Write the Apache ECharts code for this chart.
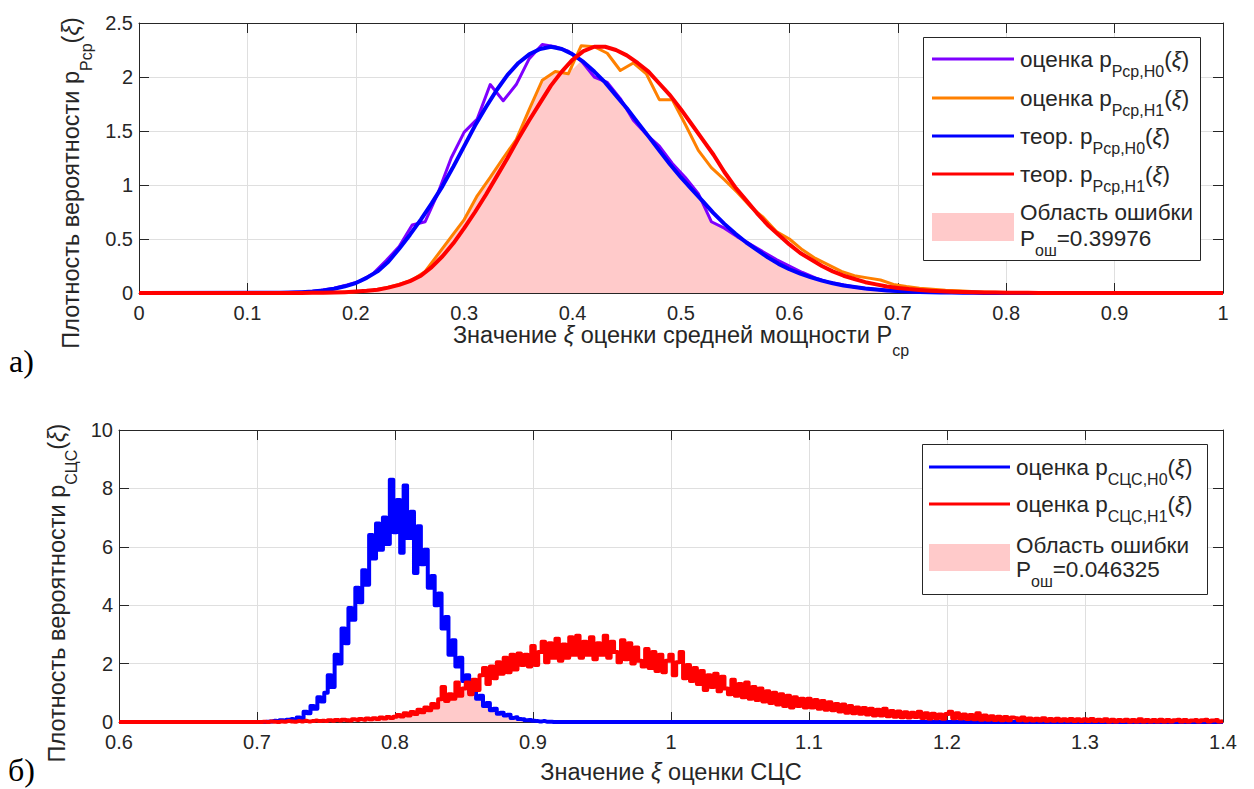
<!DOCTYPE html>
<html>
<head>
<meta charset="utf-8">
<script src="https://cdn.jsdelivr.net/npm/echarts@6/dist/echarts.min.js"></script>
<style>
  html, body { margin: 0; padding: 0; background: #ffffff; }
  #chart { width: 1254px; height: 789px; }
</style>
</head>
<body>
<div id="chart"></div>
<script>
// ---------- Panel а): mean power estimate P_ср ----------
// theoretical densities, sampled every 0.01
const pcpTheoStep = 0.01;
const pcpTheoH0Start = 0.13;
const pcpTheoH0 = [0.002,0.004,0.008,0.014,0.024,0.04,0.062,0.092,0.14,0.2,
  0.29,0.41,0.54,0.68,0.83,0.99,1.17,1.36,1.55,1.72,
  1.88,2.02,2.13,2.21,2.26,2.28,2.26,2.21,2.14,2.05,
  1.95,1.83,1.71,1.58,1.45,1.32,1.19,1.07,0.96,0.85,
  0.74,0.64,0.55,0.47,0.40,0.33,0.27,0.22,0.18,0.145,
  0.115,0.09,0.07,0.055,0.042,0.032,0.024,0.018,0.013,0.01,
  0.007,0.005,0.004,0.003,0.002,0.001];
const pcpTheoH1Start = 0.15;
const pcpTheoH1 = [0.001,0.002,0.003,0.005,0.008,0.013,0.02,0.03,0.05,0.075,
  0.11,0.16,0.24,0.34,0.46,0.60,0.75,0.91,1.08,1.25,
  1.43,1.60,1.76,1.92,2.05,2.16,2.24,2.28,2.28,2.25,
  2.20,2.13,2.05,1.94,1.83,1.70,1.56,1.42,1.28,1.12,
  0.98,0.86,0.74,0.63,0.54,0.45,0.37,0.31,0.25,0.20,
  0.16,0.13,0.10,0.08,0.06,0.047,0.036,0.028,0.021,0.016,
  0.012,0.009,0.007,0.005,0.004,0.003,0.002,0.002,0.001,0.001,0];
// histogram estimates, bin width 0.012 (index k -> x = k * 0.012)
const pcpEstStep = 0.012;
const pcpEstH0StartIdx = 11;
const pcpEstH0 = [0.003,0.006,0.01,0.025,0.045,0.075,0.11,0.18,0.3,0.43,
  0.63,0.66,0.93,1.25,1.49,1.61,1.93,1.78,1.93,2.17,
  2.30,2.28,2.24,2.15,2.0,1.95,1.8,1.6,1.47,1.36,
  1.2,1.07,0.92,0.66,0.6,0.52,0.45,0.38,0.31,0.25,
  0.19,0.14,0.1,0.08,0.055,0.04,0.03,0.02,0.014,0.01,
  0.007,0.005,0.003,0.002];
const pcpEstH1StartIdx = 14;
const pcpEstH1 = [0.003,0.005,0.008,0.013,0.025,0.05,0.08,0.12,0.2,0.36,
  0.52,0.68,0.9,1.07,1.25,1.42,1.7,1.97,2.05,2.03,
  2.29,2.28,2.22,2.06,2.13,2.03,1.79,1.79,1.56,1.32,
  1.16,1.05,0.93,0.8,0.7,0.57,0.5,0.4,0.32,0.26,
  0.2,0.16,0.14,0.12,0.08,0.06,0.045,0.035,0.025,0.02,
  0.014,0.01,0.007,0.005,0.003,0.002];
const pcpErrorProb = '0.39976';

// ---------- Panel б): estimate of СЦС ----------
// histogram estimates, bin width 0.0025 starting at 0.7
const sccStart = 0.7;
const sccStep = 0.0025;
const sccH0 = [
  0,0,0,0.01,0.02,0.04,0.03,0.06,0.05,0.08,0.1,0.07,0.15,0.12,0.35,0.3,0.55,0.45,0.85,0.7,
  1.0,1.6,1.2,2.3,2.0,3.2,2.7,3.9,3.5,4.6,4.1,5.2,4.7,6.4,5.6,6.8,5.9,7.0,6.1,8.3,
  6.5,7.6,5.8,8.1,6.3,7.2,5.1,6.7,5.4,5.9,4.6,5.0,4.0,4.4,3.2,3.6,2.3,2.8,1.9,2.2,
  1.4,1.6,1.0,1.25,0.8,0.9,0.55,0.65,
  0.4,0.45,0.28,0.32,0.22,0.25,0.14,0.16,0.1,0.09,0.06,0.07,0.04,0.03,0.02,0.03,0.01,0.01,0];
const sccH1 = [
  0,0,0.01,0,0.02,0.01,0,0.02,0.01,0.03,0.02,0.01,0.03,0.02,0.04,0.02,0.03,0.05,0.03,0.04,
  0.03,0.06,0.04,0.07,0.05,0.08,0.06,0.05,0.09,0.07,0.1,0.08,0.12,0.09,0.13,0.1,0.15,0.12,0.17,0.14,
  0.18,0.24,0.19,0.3,0.22,0.34,0.27,0.42,0.33,0.5,0.4,0.62,0.5,0.78,1.2,0.72,0.95,0.8,1.35,0.9,
  1.15,1.35,0.95,1.45,1.1,1.6,1.85,1.3,1.9,1.5,2.05,1.65,2.2,1.7,2.3,1.8,2.35,1.95,2.3,1.9,
  2.6,1.95,2.4,2.75,2.05,2.7,2.2,2.85,2.1,2.65,2.2,2.9,2.3,2.95,2.2,2.75,2.3,2.9,2.15,2.7,
  2.3,2.95,2.2,2.75,2.4,2.05,2.8,2.15,2.7,2.0,2.55,2.1,1.9,2.5,1.85,2.4,1.75,2.3,1.7,2.1,
  2.3,1.6,2.05,2.4,1.5,1.95,1.4,1.85,1.3,1.75,1.1,1.6,1.2,1.65,1.05,1.55,1.15,0.95,1.45,0.9,
  1.3,0.85,1.35,0.8,1.2,0.75,1.15,0.7,1.05,0.65,1.0,0.6,0.95,0.55,0.9,0.5,0.85,0.55,0.8,0.5,
  0.8,0.5,0.75,0.45,0.72,0.42,0.68,0.4,0.62,0.36,0.6,0.32,0.55,0.3,0.5,0.28,0.48,0.26,0.45,0.22,
  0.42,0.22,0.45,0.2,0.38,0.18,0.36,0.16,0.33,0.15,0.32,0.17,0.35,0.14,0.3,0.12,0.28,0.13,0.26,0.11,
  0.27,0.35,0.13,0.3,0.12,0.26,0.1,0.24,0.09,0.3,0.08,0.22,0.08,0.2,0.07,0.18,0.06,0.17,0.06,0.15,
  0.13,0.06,0.15,0.05,0.12,0.05,0.11,0.05,0.13,0.04,0.1,0.04,0.11,0.04,0.09,0.04,0.1,0.03,0.09,0.03,
  0.09,0.03,0.1,0.03,0.08,0.03,0.09,0.02,0.08,0.02,0.07,0.03,0.08,0.02,0.07,0.02,0.09,0.02,0.07,0.02,
  0.07,0.02,0.08,0.02,0.07,0.02,0.06,0.08,0.02,0.07,0.02,0.05,0.07,0.02,0.06,0.08,0.02,0.05,0.07,0.02,0.03];
const sccErrorProb = '0.046325';

// ---------- styling ----------
const FONT = '"Liberation Sans", Arial, Helvetica, sans-serif';
const SERIF = '"Liberation Serif", "Times New Roman", serif';
const INK = '#262626';
const GRID_LINE = '#dfdfdf';
const C_PURPLE = '#7f00ff';
const C_ORANGE = '#ff8000';
const C_BLUE = '#0000ff';
const C_RED = '#ff0000';
const C_PINK = '#ffcaca';

// ---------- data helpers ----------
const r4 = v => Math.round(v * 10000) / 10000;
function sampled(start, step, values) {
  return values.map((v, i) => [r4(start + i * step), v]);
}
function padToRange(pairs, lo, hi) {
  const out = pairs.slice();
  if (out[0][0] > lo) out.unshift([lo, 0]);
  if (out[out.length - 1][0] < hi) out.push([hi, 0]);
  return out;
}
function valAt(arr, startIdx, k) {
  const j = k - startIdx;
  return (j >= 0 && j < arr.length) ? arr[j] : 0;
}

const pcpH0Theo = padToRange(sampled(pcpTheoH0Start, pcpTheoStep, pcpTheoH0), 0, 1);
const pcpH1Theo = padToRange(sampled(pcpTheoH1Start, pcpTheoStep, pcpTheoH1), 0, 1);
const pcpH0Est = padToRange(sampled(pcpEstH0StartIdx * pcpEstStep, pcpEstStep, pcpEstH0), 0, 1);
const pcpH1Est = padToRange(sampled(pcpEstH1StartIdx * pcpEstStep, pcpEstStep, pcpEstH1), 0, 1);
// error region: overlap of the two estimated densities
const pcpErr = [];
{
  const k0 = Math.min(pcpEstH0StartIdx, pcpEstH1StartIdx);
  const k1 = Math.max(pcpEstH0StartIdx + pcpEstH0.length, pcpEstH1StartIdx + pcpEstH1.length);
  for (let k = k0; k <= k1; k++) {
    pcpErr.push([r4(k * pcpEstStep), Math.min(valAt(pcpEstH0, pcpEstH0StartIdx, k), valAt(pcpEstH1, pcpEstH1StartIdx, k))]);
  }
}

const sccH0Est = padToRange(sampled(sccStart, sccStep, sccH0), 0.6, 1.4);
const sccH1Est = padToRange(sampled(sccStart, sccStep, sccH1), 0.6, 1.4);
const sccErr = padToRange(sccH0.map((v, i) => [r4(sccStart + i * sccStep), Math.min(v, sccH1[i])]), 0.6, 1.4);

// ---------- rich text (subscripts) ----------
function axisRich(size, sub, L, l) {
  return {
    n: { fontSize: size, fontFamily: FONT, color: INK, lineHeight: L },
    i: { fontSize: size, fontFamily: FONT, color: INK, lineHeight: L, fontStyle: 'italic' },
    s: { fontSize: sub, fontFamily: FONT, color: INK, lineHeight: l, verticalAlign: 'bottom' }
  };
}
function gRich(size, sub, L, l) {
  return {
    n: { fontSize: size, fontFamily: FONT, fill: INK, lineHeight: L },
    i: { fontSize: size, fontFamily: FONT, fill: INK, lineHeight: L, fontStyle: 'italic' },
    s: { fontSize: sub, fontFamily: FONT, fill: INK, lineHeight: l, verticalAlign: 'bottom' }
  };
}
const nameRich = axisRich(23.5, 16, 46, 16);
const legRich = gRich(22.5, 16, 40, 16);

// ---------- axes ----------
const tickLabel = { color: INK, fontSize: 20, fontFamily: FONT, lineHeight: 15 };
function mainX(grid, min, max, name, gap) {
  return {
    type: 'value', gridIndex: grid, min: min, max: max, interval: 0.1, position: 'bottom',
    name: name, nameLocation: 'middle', nameGap: gap,
    nameTextStyle: { rich: nameRich },
    axisLine: { show: true, onZero: false, lineStyle: { color: INK, width: 1 } },
    axisTick: { show: true, inside: true, length: 10, lineStyle: { color: INK } },
    axisLabel: Object.assign({ margin: 12 }, tickLabel),
    splitLine: { show: true, lineStyle: { color: GRID_LINE, width: 1 } }
  };
}
function mirrorX(grid, min, max) {
  return {
    type: 'value', gridIndex: grid, min: min, max: max, interval: 0.1, position: 'top',
    axisLine: { show: true, onZero: false, lineStyle: { color: INK, width: 1 } },
    axisTick: { show: true, inside: true, length: 10, lineStyle: { color: INK } },
    axisLabel: { show: false }, splitLine: { show: false }
  };
}
function mainY(grid, max, interval, name, gap, shift) {
  return {
    type: 'value', gridIndex: grid, min: 0, max: max, interval: interval, position: 'left',
    name: name, nameLocation: 'middle', nameGap: gap,
    nameTextStyle: { rich: nameRich, padding: [0, shift, 0, 0] },
    axisLine: { show: true, onZero: false, lineStyle: { color: INK, width: 1 } },
    axisTick: { show: true, inside: true, length: 10, lineStyle: { color: INK } },
    axisLabel: Object.assign({ margin: 6 }, tickLabel),
    splitLine: { show: true, lineStyle: { color: GRID_LINE, width: 1 } }
  };
}
function mirrorY(grid, max, interval) {
  return {
    type: 'value', gridIndex: grid, min: 0, max: max, interval: interval, position: 'right',
    axisLine: { show: true, onZero: false, lineStyle: { color: INK, width: 1 } },
    axisTick: { show: true, inside: true, length: 10, lineStyle: { color: INK } },
    axisLabel: { show: false }, splitLine: { show: false }
  };
}

function curve(name, xi, yi, data, color, width, z, step) {
  return {
    type: 'line', name: name, xAxisIndex: xi, yAxisIndex: yi, data: data,
    symbol: 'none', showSymbol: false, smooth: false, step: step || false, z: z,
    lineStyle: { color: color, width: width, join: 'round' },
    itemStyle: { color: color }
  };
}
function area(name, xi, yi, data, step) {
  return {
    type: 'line', name: name, xAxisIndex: xi, yAxisIndex: yi, data: data,
    symbol: 'none', showSymbol: false, step: step || false, z: 1, silent: true,
    lineStyle: { width: 0, color: C_PINK },
    itemStyle: { color: C_PINK },
    areaStyle: { color: C_PINK, opacity: 1 }
  };
}

// ---------- legends (boxed, drawn as graphic) ----------
function legendLine(x1, x2, y, color) {
  return { type: 'line', z: 101, silent: true, shape: { x1: x1, y1: y, x2: x2, y2: y },
           style: { stroke: color, lineWidth: 3 } };
}
function legendText(x, y, text) {
  return { type: 'text', z: 102, silent: true, x: x, y: y,
           style: { text: text, rich: legRich, align: 'left', verticalAlign: 'middle' } };
}
function legendBox(x, y, w, h) {
  return { type: 'rect', z: 100, silent: true, shape: { x: x + 0.5, y: y + 0.5, width: w, height: h },
           style: { fill: '#ffffff', stroke: INK, lineWidth: 1 } };
}
function legendPatch(x, y, w, h) {
  return { type: 'rect', z: 101, silent: true, shape: { x: x, y: y, width: w, height: h },
           style: { fill: C_PINK } };
}
function panelMark(x, y, text) {
  return { type: 'text', z: 102, silent: true, x: x, y: y,
           style: { text: text, fontSize: 32, lineHeight: 32, fontFamily: SERIF, fill: '#000000', verticalAlign: 'middle' } };
}

const graphics = [
  legendBox(923, 37, 277, 223),
  legendLine(932, 1014, 59, C_PURPLE),
  legendText(1020, 59, '{n|оценка p}{s|Pср,H0}{n|(}{i|ξ}{n|)}'),
  legendLine(932, 1014, 98, C_ORANGE),
  legendText(1020, 98, '{n|оценка p}{s|Pср,H1}{n|(}{i|ξ}{n|)}'),
  legendLine(932, 1014, 136, C_BLUE),
  legendText(1020, 136, '{n|теор. p}{s|Pср,H0}{n|(}{i|ξ}{n|)}'),
  legendLine(932, 1014, 174, C_RED),
  legendText(1020, 174, '{n|теор. p}{s|Pср,H1}{n|(}{i|ξ}{n|)}'),
  legendPatch(932, 213, 82, 28),
  legendText(1020, 212, '{n|Область ошибки}'),
  legendText(1020, 238, '{n|P}{s|ош}{n|=' + pcpErrorProb + '}'),

  legendBox(922, 444, 285, 150),
  legendLine(929, 1010, 467, C_BLUE),
  legendText(1016, 467, '{n|оценка p}{s|СЦС,H0}{n|(}{i|ξ}{n|)}'),
  legendLine(929, 1010, 504, C_RED),
  legendText(1016, 504, '{n|оценка p}{s|СЦС,H1}{n|(}{i|ξ}{n|)}'),
  legendPatch(929, 544, 81, 27),
  legendText(1016, 545, '{n|Область ошибки}'),
  legendText(1016, 569, '{n|P}{s|ош}{n|=' + sccErrorProb + '}'),

  panelMark(9, 361, 'а)'),
  panelMark(8, 770, 'б)')
];

const chart = echarts.init(document.getElementById('chart'), null, { renderer: 'svg' });
chart.setOption({
  animation: false,
  backgroundColor: '#ffffff',
  grid: [
    { left: 139, top: 23, width: 1084, height: 270, containLabel: false },
    { left: 119, top: 430, width: 1104, height: 292, containLabel: false }
  ],
  xAxis: [
    mainX(0, 0, 1, '{n|Значение }{i|ξ}{n| оценки средней мощности P}{s|ср}', 12),
    mirrorX(0, 0, 1),
    mainX(1, 0.6, 1.4, '{n|Значение }{i|ξ}{n| оценки СЦС}', 27),
    mirrorX(1, 0.6, 1.4)
  ],
  yAxis: [
    mainY(0, 2.5, 0.5, '{n|Плотность вероятности p}{s|Pср}{n|(}{i|ξ}{n|)}', 40, 50),
    mirrorY(0, 2.5, 0.5),
    mainY(1, 10, 2, '{n|Плотность вероятности p}{s|СЦС}{n|(}{i|ξ}{n|)}', 33, 34),
    mirrorY(1, 10, 2)
  ],
  series: [
    area('Область ошибки, P=' + pcpErrorProb, 0, 0, pcpErr),
    curve('оценка p Pср,H0', 0, 0, pcpH0Est, C_PURPLE, 3, 3),
    curve('оценка p Pср,H1', 0, 0, pcpH1Est, C_ORANGE, 3, 4),
    curve('теор. p Pср,H0', 0, 0, pcpH0Theo, C_BLUE, 4, 5),
    curve('теор. p Pср,H1', 0, 0, pcpH1Theo, C_RED, 4, 6),
    area('Область ошибки, P=' + sccErrorProb, 2, 2, sccErr, 'middle'),
    curve('оценка p СЦС,H0', 2, 2, sccH0Est, C_BLUE, 4, 3, 'middle'),
    curve('оценка p СЦС,H1', 2, 2, sccH1Est, C_RED, 4, 4, 'middle')
  ],
  graphic: graphics
});
</script>
</body>
</html>
